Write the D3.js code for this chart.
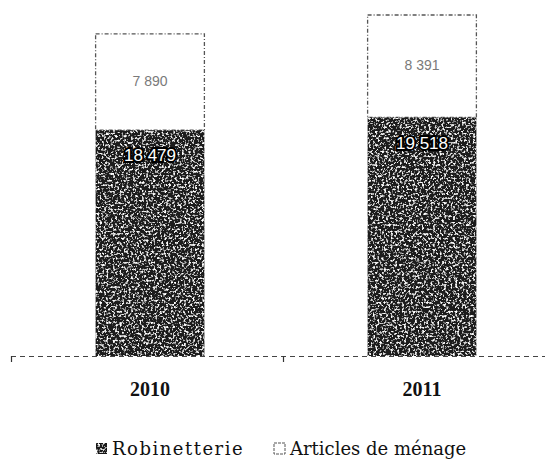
<!DOCTYPE html>
<html>
<head>
<meta charset="utf-8">
<script src="https://cdn.jsdelivr.net/npm/d3@7"></script>
<style>
  html, body { margin: 0; padding: 0; background: #fff; }
  svg { display: block; }
</style>
</head>
<body>
<div class="chart"></div>
<script>
////////////////////////////////// data

var years = ["2010", "2011"];
var robinetterie = [18479, 19518];
var menage = [7890, 8391];
var seriesNames = ["Robinetterie", "Articles de ménage"];

////////////////////////////////// helpers

//formats 18479 as "18 479"
function fmt(v) {
    return d3.format(",")(v).replace(/,/g, " ");
}

////////////////////////////////// chart

var width = 557, height = 472;
var baseY = 356;

var svg = d3.select(".chart").append("svg")
    .attr("width", width)
    .attr("height", height);

//grainy scan texture for the dark bars
var defs = svg.append("defs");
var grain = defs.append("filter").attr("id", "grain")
    .attr("x", 0).attr("y", 0).attr("width", 1).attr("height", 1);
grain.append("feTurbulence")
    .attr("type", "fractalNoise").attr("baseFrequency", 0.45)
    .attr("numOctaves", 3).attr("seed", 11).attr("result", "noise");
grain.append("feColorMatrix").attr("in", "noise").attr("type", "matrix")
    .attr("values", "0 0 0 0 1  0 0 0 0 1  0 0 0 0 1  0 0 0 -4.5 2.15")
    .attr("result", "spots");
grain.append("feComposite").attr("in", "spots").attr("in2", "SourceGraphic")
    .attr("operator", "in").attr("result", "spotsIn");
var merge = grain.append("feMerge");
merge.append("feMergeNode").attr("in", "SourceGraphic");
merge.append("feMergeNode").attr("in", "spotsIn");

var x = d3.scaleBand()
    .domain(years)
    .range([14, 558])
    .paddingInner(0.6)
    .paddingOuter(0.3);

var totals = years.map(function(d, i) { return robinetterie[i] + menage[i]; });

var y = d3.scaleLinear()
    .domain([0, d3.max(totals)])
    .range([baseY, 15]);

var stackData = years.map(function(d, i) {
    return {year: d, rob: robinetterie[i], men: menage[i]};
});

//axis (dashed like the scan)
svg.append("line")
    .attr("x1", 11).attr("x2", 545)
    .attr("y1", baseY + 0.5).attr("y2", baseY + 0.5)
    .style("stroke", "#444").style("stroke-width", 1)
    .style("stroke-dasharray", "5,4");

//category boundaries
var boundaries = years.map(function(d) { return x(d) - x.step() * x.paddingOuter(); });
svg.selectAll(".tick-mark").data(boundaries).enter().append("line")
    .attr("class", "tick-mark")
    .attr("x1", function(d) { return d - 2.5; }).attr("x2", function(d) { return d - 2.5; })
    .attr("y1", baseY).attr("y2", baseY + 6)
    .style("stroke", "#333").style("stroke-width", 1.2);

//top segments (Articles de ménage)
svg.selectAll(".bar-men").data(stackData).enter().append("rect")
    .attr("class", "bar-men")
    .attr("x", function(d) { return x(d.year); })
    .attr("y", function(d) { return y(d.rob + d.men); })
    .attr("width", x.bandwidth())
    .attr("height", function(d) { return y(d.rob) - y(d.rob + d.men); })
    .style("fill", "#fff")
    .style("stroke", "#555")
    .style("stroke-width", 1.3)
    .style("stroke-dasharray", "4,2,1,2");

//bottom segments (Robinetterie)
svg.selectAll(".bar-rob").data(stackData).enter().append("rect")
    .attr("class", "bar-rob")
    .attr("x", function(d) { return x(d.year); })
    .attr("y", function(d) { return y(d.rob); })
    .attr("width", x.bandwidth())
    .attr("height", function(d) { return y(0) - y(d.rob); })
    .style("fill", "#1a1a1a")
    .attr("filter", "url(#grain)");

//value labels
svg.selectAll(".lab-rob").data(stackData).enter().append("text")
    .attr("class", "lab-rob")
    .attr("x", function(d) { return x(d.year) + x.bandwidth() / 2; })
    .attr("y", function(d) { return y(d.rob) + 31; })
    .attr("text-anchor", "middle")
    .style("font-family", "'Liberation Sans', sans-serif")
    .style("font-size", "17px")
    .style("fill", "#fff")
    .style("stroke", "#000")
    .style("stroke-width", 4)
    .style("paint-order", "stroke")
    .text(function(d) { return fmt(d.rob); });

svg.selectAll(".lab-men").data(stackData).enter().append("text")
    .attr("class", "lab-men")
    .attr("x", function(d) { return x(d.year) + x.bandwidth() / 2; })
    .attr("y", function(d) { return (y(d.rob) + y(d.rob + d.men)) / 2 + 4; })
    .attr("text-anchor", "middle")
    .style("font-family", "'Liberation Sans', sans-serif")
    .style("font-size", "14px")
    .style("fill", "#7a7a7a")
    .text(function(d) { return fmt(d.men); });

//category labels
svg.selectAll(".year").data(years).enter().append("text")
    .attr("class", "year")
    .attr("x", function(d) { return x(d) + x.bandwidth() / 2; })
    .attr("y", 396)
    .attr("text-anchor", "middle")
    .style("font-family", "'Liberation Serif', serif")
    .style("font-weight", "bold")
    .style("font-size", "20px")
    .style("fill", "#111")
    .text(function(d) { return d; });

//legend
var legendX = [96, 274];
var legend = svg.selectAll(".legend").data(seriesNames).enter().append("g")
    .attr("class", "legend")
    .attr("transform", function(d, i) { return "translate(" + legendX[i] + ",449)"; });

legend.append("rect")
    .attr("x", 0).attr("y", -6)
    .attr("width", 11).attr("height", 11)
    .style("fill", function(d, i) { return i === 0 ? "#1a1a1a" : "#fff"; })
    .style("stroke", function(d, i) { return i === 0 ? "#111" : "#555"; })
    .style("stroke-width", 1)
    .style("stroke-dasharray", function(d, i) { return i === 0 ? null : "3,1"; })
    .attr("filter", function(d, i) { return i === 0 ? "url(#grain)" : null; });

legend.append("text")
    .attr("x", 16).attr("y", 6)
    .style("font-family", "'DejaVu Serif', serif")
    .style("font-size", "18px")
    .style("letter-spacing", function(d, i) { return i === 0 ? "1.5px" : "0px"; })
    .style("fill", "#111")
    .text(function(d) { return d; });
</script>
</body>
</html>
